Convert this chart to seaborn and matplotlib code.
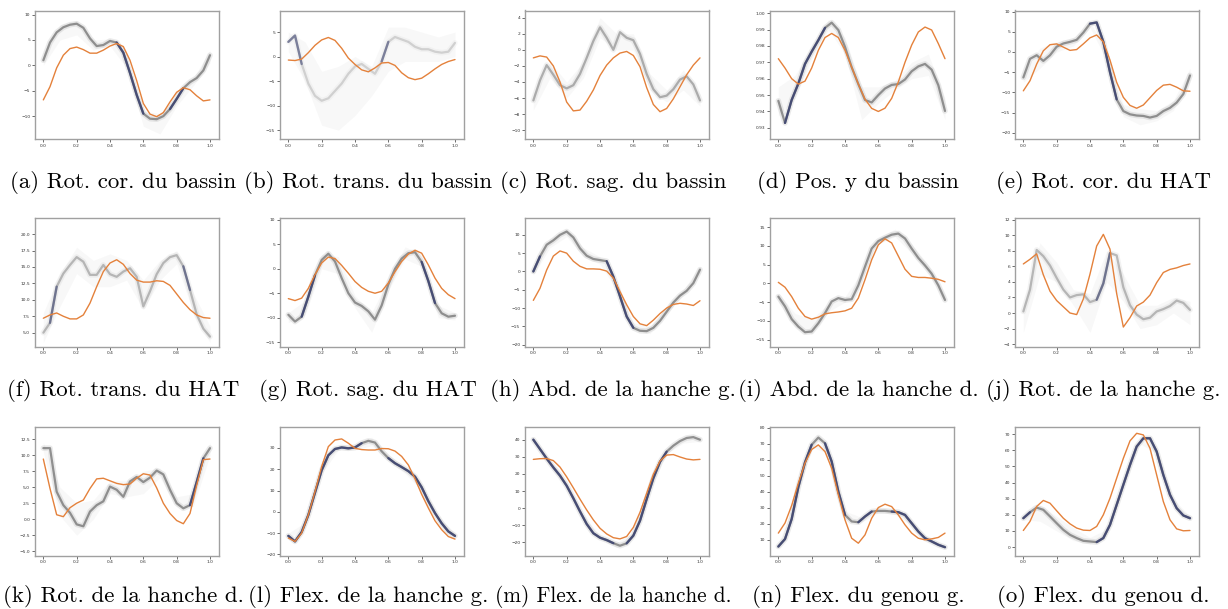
import numpy as np
import matplotlib
matplotlib.use("Agg")
import matplotlib.pyplot as plt
from matplotlib.ticker import MultipleLocator
import seaborn as sns

# ==========================================
# DATA
# ==========================================
x_fine = np.linspace(0, 1, 26)   # grid of core / orange curves
x_band = np.linspace(0, 1, 11)   # grid of the faint envelope

captions = ["(a) Rot. cor. du bassin", "(b) Rot. trans. du bassin", "(c) Rot. sag. du bassin",
            "(d) Pos. y du bassin", "(e) Rot. cor. du HAT", "(f) Rot. trans. du HAT",
            "(g) Rot. sag. du HAT", "(h) Abd. de la hanche g.", "(i) Abd. de la hanche d.",
            "(j) Rot. de la hanche g.", "(k) Rot. de la hanche d.", "(l) Flex. de la hanche g.",
            "(m) Flex. de la hanche d.", "(n) Flex. du genou g.", "(o) Flex. du genou d."]

core_a = [1.0, 4.5, 6.5, 7.5, 8.0, 8.2, 7.4, 5.3, 3.8, 4.0, 4.8, 4.5, 2.5, -1.5, -5.8, -9.5,
          -10.5, -10.6, -10.0, -8.6, -6.6, -4.5, -3.3, -2.5, -1.0, 2.0]
orange_a = [-6.8, -4.2, -0.5, 2.0, 3.3, 3.6, 3.1, 2.4, 2.4, 3.0, 3.8, 4.3, 3.7, 1.0, -3.0, -7.5,
            -9.6, -10.1, -9.3, -7.2, -5.3, -4.4, -4.8, -6.0, -7.0, -6.8]
lo_a = [0.0, 5, 6, 3, 3.8, -0.5, -12, -13.5, -8, -4, 0.5]
hi_a = [2.5, 8, 8.8, 5, 5.2, 1.5, -9, -9.5, -6, -2.5, 3]

core_b = [3.0, 4.3, -1.5, -5.5, -8.0, -9.0, -8.5, -7.0, -5.5, -3.5, -2.0, -1.5, -2.5, -3.5, -1.0,
          3.0, 4.0, 3.5, 3.0, 2.0, 1.5, 1.5, 1.0, 0.8, 1.0, 2.8]
orange_b = [-0.7, -0.8, -0.5, 0.8, 2.3, 3.4, 3.9, 3.3, 1.7, -0.3, -1.6, -2.7, -3.1, -2.3, -1.3,
            -1.2, -1.8, -3.3, -4.3, -4.7, -4.4, -3.5, -2.5, -1.6, -1.0, -0.6]
lo_b = [1, -5, -14, -15, -12, -8, -3, -1, -1, -1, 0]
hi_b = [5, 3, -3, -2, 0, -2, 6, 6, 5, 4, 5]

core_c = [-6.3, -3.8, -1.9, -3.1, -4.4, -4.8, -4.4, -3.0, -1.0, 1.1, 2.8, 1.5, 0.0, 2.2, 1.5,
          1.2, -0.5, -3.0, -4.9, -5.9, -5.7, -4.9, -3.7, -3.3, -4.3, -6.3]
orange_c = [-1.0, -0.75, -0.9, -2.0, -4.0, -6.5, -7.6, -7.5, -6.4, -5.0, -3.2, -1.9, -1.0, -0.4,
            -0.2, -0.7, -2.1, -4.7, -6.8, -7.7, -7.3, -6.1, -4.6, -3.1, -1.9, -1.0]
lo_c = [-7.5, -3.5, -6, -3.5, 1.5, 0, 0, -5, -6.5, -5, -7]
hi_c = [-5.5, -1.5, -4, -1.5, 4, 2, 2, -3, -5, -2.5, -5.5]

core_d = [0.9465, 0.9330, 0.9470, 0.9570, 0.9690, 0.9765, 0.9835, 0.9910, 0.9942, 0.9897, 0.9794,
          0.9670, 0.9567, 0.9470, 0.9455, 0.9500, 0.9540, 0.9562, 0.9567, 0.9595, 0.9645, 0.9675,
          0.9690, 0.9655, 0.9560, 0.9403]
orange_d = [0.9722, 0.9665, 0.9600, 0.9567, 0.9585, 0.9665, 0.9773, 0.9851, 0.9876, 0.9851,
            0.9773, 0.9670, 0.9567, 0.9475, 0.9419, 0.9400, 0.9420, 0.9480, 0.9580, 0.9700,
            0.9805, 0.9885, 0.9915, 0.9897, 0.9814, 0.9722]
lo_d = [0.937, 0.948, 0.972, 0.990, 0.975, 0.935, 0.945, 0.953, 0.960, 0.962, 0.935]
hi_d = [0.955, 0.962, 0.980, 0.996, 0.985, 0.955, 0.955, 0.959, 0.970, 0.975, 0.948]

core_e = [-6.3, -1.7, -0.8, -2.2, -0.8, 1.3, 2.1, 2.5, 3.0, 4.8, 7.0, 7.3, 2.5, -5.0, -11.7,
          -14.6, -15.4, -15.7, -15.8, -16.2, -15.8, -14.6, -13.8, -12.5, -10.4, -5.8]
orange_e = [-9.6, -7.1, -3.0, 0.3, 1.8, 2.0, 1.2, 0.4, 0.6, 2.0, 3.5, 4.2, 2.5, -2.0, -7.5,
            -11.2, -13.2, -13.9, -13.1, -11.3, -9.5, -8.2, -8.0, -8.7, -9.6, -9.7]
lo_e = [-7.5, -4, 0, 1.5, 6, -2, -16, -18, -17, -14.5, -7]
hi_e = [-5, 1, 2.5, 3.5, 7.5, 0, -13, -14, -14.5, -12, -4]

core_f = [5.0, 6.5, 12.0, 14.0, 15.3, 16.5, 15.8, 13.8, 13.8, 15.3, 13.9, 13.5, 14.3, 14.8, 13.5,
          9.0, 11.3, 13.9, 15.6, 16.5, 16.8, 15.1, 11.5, 7.8, 5.6, 4.4]
orange_f = [7.2, 7.7, 8.0, 7.5, 7.1, 7.1, 7.7, 9.5, 12.0, 14.3, 15.6, 16.1, 15.4, 14.0, 13.0,
            12.7, 12.7, 12.9, 12.8, 12.2, 10.9, 9.6, 8.5, 7.7, 7.3, 7.2]
lo_f = [3.5, 9, 14, 12, 12, 13, 8.5, 13, 15.5, 8, 3.5]
hi_f = [8, 14, 18, 16, 17, 16, 13, 16, 17.5, 11, 6]

core_g = [-9.4, -10.8, -9.8, -5.7, -1.3, 1.8, 3.1, 1.5, -1.9, -5.0, -6.9, -7.6, -8.7, -10.4,
          -7.5, -3.2, 0.0, 2.1, 3.2, 3.4, 1.4, -2.5, -7.0, -9.1, -9.8, -9.6]
orange_g = [-6.1, -6.5, -6.0, -4.0, -1.2, 1.2, 2.4, 2.1, 0.7, -0.9, -2.6, -3.8, -4.6, -5.0, -4.6,
            -2.9, -0.6, 1.5, 3.0, 3.8, 3.2, 0.8, -1.9, -4.0, -5.3, -6.1]
lo_g = [-11, -9.5, 0, -1, -8, -13, -4.5, 2, 0.5, -10, -10.5]
hi_g = [-9, -6.5, 3, 2.5, -5.5, -9, -2, 4.5, 3, -7.5, -9]

core_h = [0.0, 4.1, 7.3, 8.5, 10.0, 10.9, 9.3, 6.3, 4.3, 3.4, 3.1, 2.8, -1.4, -6.8, -12.3,
          -15.4, -16.2, -16.3, -15.4, -13.5, -11.0, -8.5, -6.6, -5.3, -3.2, 0.5]
orange_h = [-7.9, -4.6, 0.4, 4.2, 5.6, 5.0, 2.8, 1.4, 0.7, 0.7, 0.6, 0.1, -1.8, -5.5, -9.1,
            -12.3, -14.3, -14.8, -13.3, -11.5, -10.0, -9.0, -8.7, -8.9, -9.3, -8.0]
lo_h = [-1, 6.5, 9.5, 4, 2, -5, -16, -17, -11.5, -6.5, -0.5]
hi_h = [1.5, 9, 11.5, 6.5, 4, -3, -14, -15, -9.5, -5, 1.5]

core_i = [-3.5, -6.1, -9.5, -11.5, -13.0, -12.8, -10.6, -7.9, -4.8, -3.9, -4.4, -4.2, -0.5, 4.5,
          9.3, 11.3, 12.2, 13.0, 13.3, 12.0, 9.3, 6.8, 4.8, 2.6, -0.5, -4.4]
orange_i = [0.3, -1.0, -3.5, -6.6, -8.8, -9.5, -9.0, -8.1, -7.8, -7.6, -7.3, -6.6, -3.9, 1.0,
            6.3, 10.3, 11.9, 10.8, 7.3, 3.8, 1.9, 1.6, 1.6, 1.4, 1.1, 0.45]
lo_i = [-5, -11.5, -13.5, -7.5, -5, 1, 10.5, 12.5, 8, 3, -5]
hi_i = [-2.5, -8, -9.5, -5.5, -3.5, 3, 12, 14.5, 10.5, 5, -3]

core_j = [0.2, 3.0, 8.1, 7.3, 6.1, 4.5, 3.0, 2.0, 2.3, 2.4, 1.4, 1.7, 3.8, 7.7, 7.4, 3.3, 1.0,
          -0.2, -0.8, -0.6, 0.2, 0.5, 0.9, 1.6, 1.3, 0.4]
orange_j = [6.3, 6.9, 7.6, 4.9, 2.8, 1.6, 0.8, 0.0, -0.2, 1.8, 5.0, 8.6, 10.1, 8.2, 2.5, -1.8,
            -0.6, 0.9, 1.4, 2.3, 3.9, 5.2, 5.6, 5.8, 6.1, 6.3]
lo_j = [-2.5, 5, 4, 1, -2.5, 4, 1.5, -2, -1.5, 0, -1.5]
hi_j = [1, 9, 6.5, 3, 2.5, 8, 5, 1, 1, 2, 1.5]

core_k = [11.1, 11.1, 4.3, 2.2, 1.0, -0.8, -1.1, 1.2, 2.2, 2.8, 5.1, 4.6, 3.5, 5.9, 6.6, 5.8,
          6.5, 7.6, 7.0, 4.6, 2.5, 1.7, 2.2, 5.8, 9.5, 11.1]
orange_k = [9.4, 4.8, 0.7, 0.4, 1.8, 2.5, 3.0, 4.8, 6.3, 6.4, 6.0, 5.6, 5.4, 5.5, 6.4, 7.1, 6.9,
            4.9, 2.5, 0.9, -0.2, -0.7, 0.9, 5.3, 9.3, 9.4]
lo_k = [10.5, 0.5, -2.5, 0, 4, 3.5, 4, 6.5, 2, 2, 10]
hi_k = [12, 5, 2.5, 3, 6, 6, 7.5, 8, 3.5, 4, 12]

core_l = [-11.3, -13.9, -9.5, -1.5, 9.0, 19.5, 26.5, 29.5, 30.2, 29.8, 30.2, 32.2, 33.3, 32.5,
          28.4, 25.2, 22.8, 21.0, 19.1, 16.5, 11.5, 5.0, -0.6, -5.4, -9.2, -11.3]
orange_l = [-12.3, -13.9, -10.0, -1.4, 9.5, 21.2, 30.6, 33.7, 34.2, 32.2, 29.8, 29.2, 29.0, 29.0,
            29.7, 29.6, 28.5, 26.0, 22.0, 15.5, 8.2, 1.8, -4.2, -8.4, -11.6, -12.8]
lo_l = [-13, -7, 18, 29, 29, 31, 24, 18, 10, -4, -12]
hi_l = [-10, -5, 21, 31, 32, 35, 27, 21, 13, -2, -10]

core_m = [40.0, 34.5, 29.0, 23.8, 19.0, 13.1, 5.8, -1.9, -9.2, -14.6, -17.2, -18.6, -20.4, -21.9,
          -20.5, -16.0, -7.3, 5.3, 17.5, 27.0, 33.0, 36.5, 39.2, 41.0, 41.5, 40.0]
orange_m = [28.5, 28.9, 29.0, 27.8, 24.0, 18.3, 11.9, 5.3, -1.0, -6.8, -11.7, -15.0, -17.2, -17.9,
            -16.5, -11.2, -2.4, 8.7, 19.8, 27.6, 31.0, 31.3, 29.9, 28.7, 28.2, 28.5]
lo_m = [39, 25, 12, -7, -18, -23, -17, 10, 32, 38, 39]
hi_m = [41, 28, 15, -4, -16, -20, -14, 13, 35, 41, 41]

core_n = [5.8, 10.5, 23.0, 43.0, 58.5, 69.5, 74.0, 70.4, 59.0, 40.2, 25.6, 21.5, 21.0, 24.6, 27.7,
          28.1, 28.1, 27.7, 27.3, 25.6, 20.4, 15.2, 11.0, 9.0, 6.9, 5.4]
orange_n = [14.2, 20.5, 31.5, 45.5, 58.0, 66.5, 69.4, 65.2, 54.8, 38.1, 22.5, 11.0, 7.9, 13.1,
            23.5, 30.2, 32.3, 30.8, 25.6, 19.4, 14.2, 11.0, 10.0, 10.6, 11.5, 14.2]
lo_n = [5, 33, 68, 64, 24, 21, 27, 26, 19, 9, 4.5]
hi_n = [7, 36, 71, 68, 28, 24, 30, 29, 22, 11, 6.5]

core_o = [17.9, 21.6, 24.5, 23.1, 19.0, 14.8, 10.7, 7.6, 5.6, 3.9, 3.5, 3.1, 5.6, 13.8, 26.2,
          38.6, 50.9, 62.3, 67.4, 67.4, 59.2, 44.7, 32.4, 24.1, 19.6, 17.9]
orange_o = [10.3, 15.9, 25.2, 28.9, 27.2, 22.5, 17.9, 14.4, 11.8, 10.5, 10.3, 12.8, 20.0, 30.3,
            42.7, 55.0, 65.8, 70.5, 69.5, 61.2, 44.7, 28.2, 16.9, 11.3, 10.1, 10.3]
lo_o = [17, 16, 10, 4, 2, 7, 37, 64, 58, 27, 17]
hi_o = [19, 26, 19, 12, 6, 11, 40, 67, 61, 30, 19]

# where the bundle of curves converges into the dark navy stroke
navy_spans = [[(0.44, 0.60), (0.76, 0.84)], [(0.0, 0.08), (0.56, 0.6)], [], [(0.04, 0.28)],
              [(0.40, 0.56)], [(0.04, 0.08), (0.84, 0.88)], [(0.08, 0.16), (0.80, 0.88)],
              [(0.0, 0.04), (0.44, 0.60)], [], [(0.44, 0.52)], [(0.88, 0.96)],
              [(0.0, 0.44), (0.60, 1.0)], [(0.0, 0.48), (0.56, 0.80)],
              [(0.0, 0.20), (0.28, 0.40), (0.48, 0.56), (0.68, 1.0)], [(0.0, 0.04), (0.44, 1.0)]]

ylims = [(-14.5, 10.8), (-16.8, 9.4), (-11.1, 4.9), (0.9232, 1.0016), (-21.5, 10.25),
         (2.9, 22.45), (-15.9, 10.4), (-20.5, 14.6), (-16.8, 17.45), (-4.3, 12.2),
         (-5.66, 14.4), (-20.5, 39.8), (-27.6, 47.4), (0.2, 80.6), (-5.2, 74.4)]
ystep = [5, 5, 2, 0.01, 5, 2.5, 5, 5, 5, 2, 2.5, 10, 10, 10, 10]
core_alpha = [1, 0.35, 0.7, 1, 1, 0.6, 1, 1, 1, 0.6, 1, 1, 1, 1, 1]
cap_size = [16.5] * 12 + [15.3, 16.5, 16.5]

cores = [core_a, core_b, core_c, core_d, core_e, core_f, core_g, core_h, core_i, core_j,
         core_k, core_l, core_m, core_n, core_o]
oranges = [orange_a, orange_b, orange_c, orange_d, orange_e, orange_f, orange_g, orange_h,
           orange_i, orange_j, orange_k, orange_l, orange_m, orange_n, orange_o]
los = [lo_a, lo_b, lo_c, lo_d, lo_e, lo_f, lo_g, lo_h, lo_i, lo_j, lo_k, lo_l, lo_m, lo_n, lo_o]
his = [hi_a, hi_b, hi_c, hi_d, hi_e, hi_f, hi_g, hi_h, hi_i, hi_j, hi_k, hi_l, hi_m, hi_n, hi_o]

# ==========================================
# FIGURE
# ==========================================
sns.set_theme(style="white")
W, H = 1228, 609
fig = plt.figure(figsize=(W / 100, H / 100), dpi=100)

col_left = [35, 280, 525, 770, 1015]
row_top = [10.5, 218, 427]
ax_w, ax_h = 184, 128.5
cap_y = [183, 390, 597]

ORANGE = "#e4813b"
NAVY = "#353d6e"

for i in range(15):
    r, c = divmod(i, 5)
    ax = fig.add_axes([col_left[c] / W, 1 - (row_top[r] + ax_h) / H, ax_w / W, ax_h / H])
    core = np.array(cores[i], dtype=float)
    a = core_alpha[i]

    ax.fill_between(x_band, los[i], his[i], color="#a0a0a0", alpha=0.07, lw=0)
    sns.lineplot(x=x_fine, y=core, ax=ax, color="#8c8c8c", lw=4.0, alpha=0.18 * a,
                 solid_joinstyle="round")
    sns.lineplot(x=x_fine, y=core, ax=ax, color="#6a6a6a", lw=1.6, alpha=0.7 * a,
                 solid_joinstyle="round")
    for x0, x1 in navy_spans[i]:
        m = (x_fine >= x0 - 1e-9) & (x_fine <= x1 + 1e-9)
        ax.plot(x_fine[m], core[m], color=NAVY, lw=1.7, alpha=0.8 if a == 1 else 0.55,
                solid_capstyle="round", solid_joinstyle="round")
    sns.lineplot(x=x_fine, y=oranges[i], ax=ax, color=ORANGE, lw=1.0, solid_joinstyle="round")

    ax.set_xlim(-0.05, 1.054)
    ax.set_ylim(*ylims[i])
    ax.xaxis.set_major_locator(MultipleLocator(0.2))
    ax.yaxis.set_major_locator(MultipleLocator(ystep[i]))
    ax.tick_params(axis="both", which="both", bottom=True, left=True, length=2, width=0.5,
                   pad=1.5, labelsize=3.2, colors="#333333")
    ax.set_xlabel("")
    ax.set_ylabel("")
    for sp in ax.spines.values():
        sp.set_visible(True)
        sp.set_color("#a0a0a0")
        sp.set_linewidth(1.0)

    fig.text((col_left[c] + ax_w / 2 - 4) / W, 1 - cap_y[r] / H, captions[i],
             ha="center", va="center", fontsize=cap_size[i], family="cmr10", color="black")

fig.savefig("out.png", dpi=100, facecolor="white")
